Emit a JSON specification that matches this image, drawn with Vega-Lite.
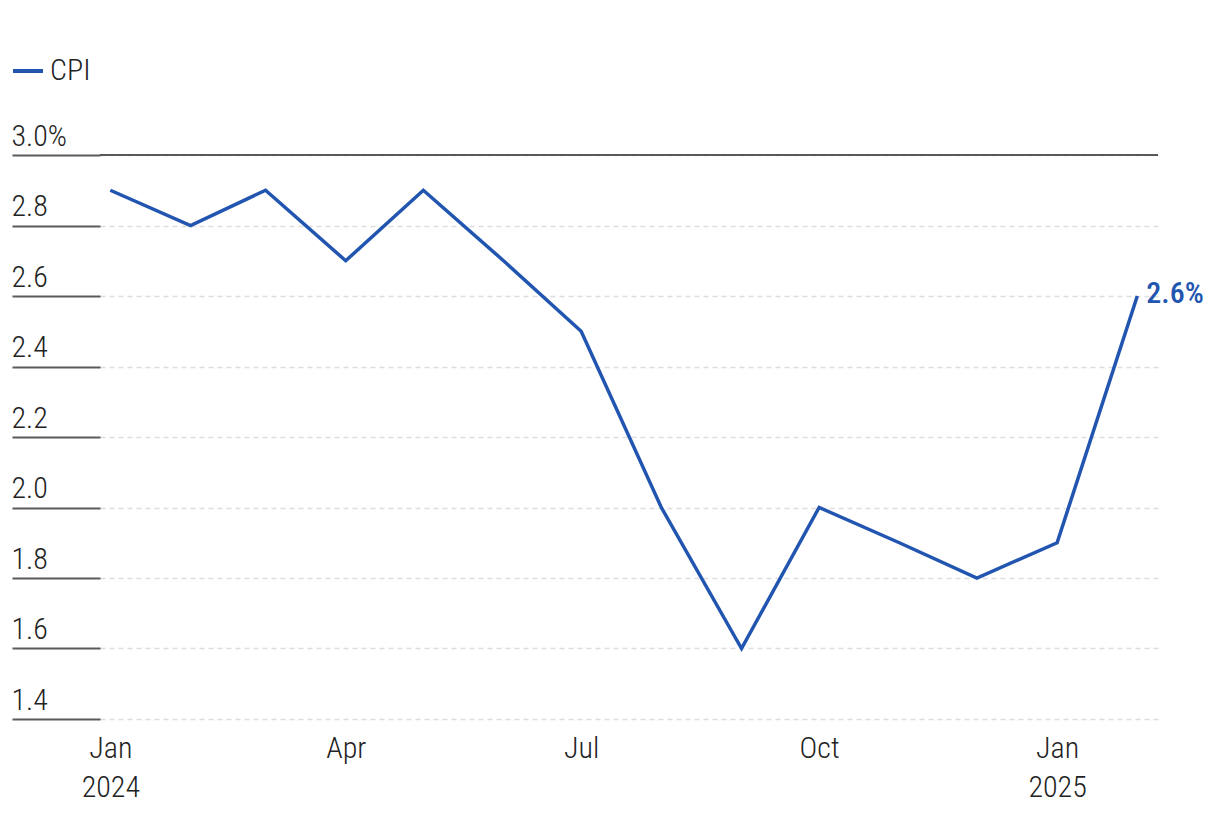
{
  "$schema": "https://vega.github.io/schema/vega-lite/v6.json",
  "autosize": {"type": "none"},
  "width": 1058,
  "height": 564,
  "padding": {"left": 100, "top": 155, "right": 62, "bottom": 101},
  "background": "white",
  "config": {
    "view": {"stroke": null},
    "font": "Roboto Condensed, Liberation Sans Narrow, DejaVu Sans Condensed, sans-serif"
  },
  "data": {
    "values": [
      {"date": "2024-01-01", "series": "CPI", "value": 2.9},
      {"date": "2024-02-01", "series": "CPI", "value": 2.8},
      {"date": "2024-03-01", "series": "CPI", "value": 2.9},
      {"date": "2024-04-01", "series": "CPI", "value": 2.7},
      {"date": "2024-05-01", "series": "CPI", "value": 2.9},
      {"date": "2024-06-01", "series": "CPI", "value": 2.7},
      {"date": "2024-07-01", "series": "CPI", "value": 2.5},
      {"date": "2024-08-01", "series": "CPI", "value": 2.0},
      {"date": "2024-09-01", "series": "CPI", "value": 1.6},
      {"date": "2024-10-01", "series": "CPI", "value": 2.0},
      {"date": "2024-11-01", "series": "CPI", "value": 1.9},
      {"date": "2024-12-01", "series": "CPI", "value": 1.8},
      {"date": "2025-01-01", "series": "CPI", "value": 1.9},
      {"date": "2025-02-01", "series": "CPI", "value": 2.6}
    ]
  },
  "encoding": {
    "x": {
      "field": "date",
      "type": "temporal",
      "scale": {
        "type": "utc",
        "domain": [
          {"year": 2023, "month": 12, "date": 28, "utc": true},
          {"year": 2025, "month": 2, "date": 9, "utc": true}
        ]
      },
      "axis": {
        "title": null,
        "domain": false,
        "ticks": false,
        "grid": false,
        "tickCount": {"interval": "month", "step": 3},
        "labelExpr": "utcmonth(datum.value) == 0 ? [utcFormat(datum.value, '%b'), utcFormat(datum.value, '%Y')] : utcFormat(datum.value, '%b')",
        "labelFont": "Roboto Condensed, Liberation Sans Narrow, DejaVu Sans Condensed, sans-serif",
        "labelFontWeight": 300,
        "labelFontSize": 30,
        "labelColor": "#222222",
        "labelLineHeight": 39,
        "labelPadding": 14,
        "labelFlush": false,
        "labelOverlap": false
      }
    },
    "y": {
      "field": "value",
      "type": "quantitative",
      "scale": {"domain": [1.4, 3.0], "nice": false, "zero": false},
      "axis": {
        "title": null,
        "domain": false,
        "values": [1.4, 1.6, 1.8, 2.0, 2.2, 2.4, 2.6, 2.8, 3.0],
        "labelExpr": "datum.value >= 2.99 ? format(datum.value, '.1f') + '%' : format(datum.value, '.1f')",
        "labelFont": "Roboto Condensed, Liberation Sans Narrow, DejaVu Sans Condensed, sans-serif",
        "labelFontWeight": 300,
        "labelFontSize": 30,
        "labelColor": "#222222",
        "labelAlign": "left",
        "labelBaseline": "alphabetic",
        "labelOffset": -10,
        "labelPadding": 1,
        "tickSize": 88,
        "tickColor": "#5a5a5a",
        "tickWidth": 2,
        "grid": true,
        "gridColor": "#dddddd",
        "gridDash": [5, 4],
        "gridWidth": 1.5
      }
    }
  },
  "layer": [
    {
      "mark": {"type": "rule", "color": "#5a5a5a", "strokeWidth": 1.5},
      "encoding": {"y": {"datum": 3.0}, "x": {"value": 0}, "x2": {"value": 1058}}
    },
    {
      "mark": {"type": "line", "strokeWidth": 3.5, "strokeJoin": "miter"},
      "encoding": {
        "color": {
          "field": "series",
          "type": "nominal",
          "scale": {"range": ["#2155b0"]},
          "legend": {
            "title": null,
            "orient": "none",
            "legendX": -89,
            "legendY": -101,
            "symbolType": "stroke",
            "symbolSize": 900,
            "symbolStrokeWidth": 4,
            "labelFont": "Roboto Condensed, Liberation Sans Narrow, DejaVu Sans Condensed, sans-serif",
            "labelFontWeight": 300,
            "labelFontSize": 30,
            "labelColor": "#222222",
            "labelOffset": 5
          }
        }
      }
    },
    {
      "transform": [
        {"filter": "utcyear(datum.date) == 2025 && utcmonth(datum.date) == 1"},
        {"calculate": "format(datum.value, '.1f') + '%'", "as": "lbl"}
      ],
      "mark": {
        "type": "text",
        "align": "left",
        "baseline": "middle",
        "dx": 9,
        "dy": -2,
        "fontSize": 30,
        "fontWeight": 500,
        "color": "#2155b0",
        "font": "Roboto Condensed, Liberation Sans Narrow, DejaVu Sans Condensed, sans-serif"
      },
      "encoding": {"text": {"field": "lbl"}}
    }
  ]
}
